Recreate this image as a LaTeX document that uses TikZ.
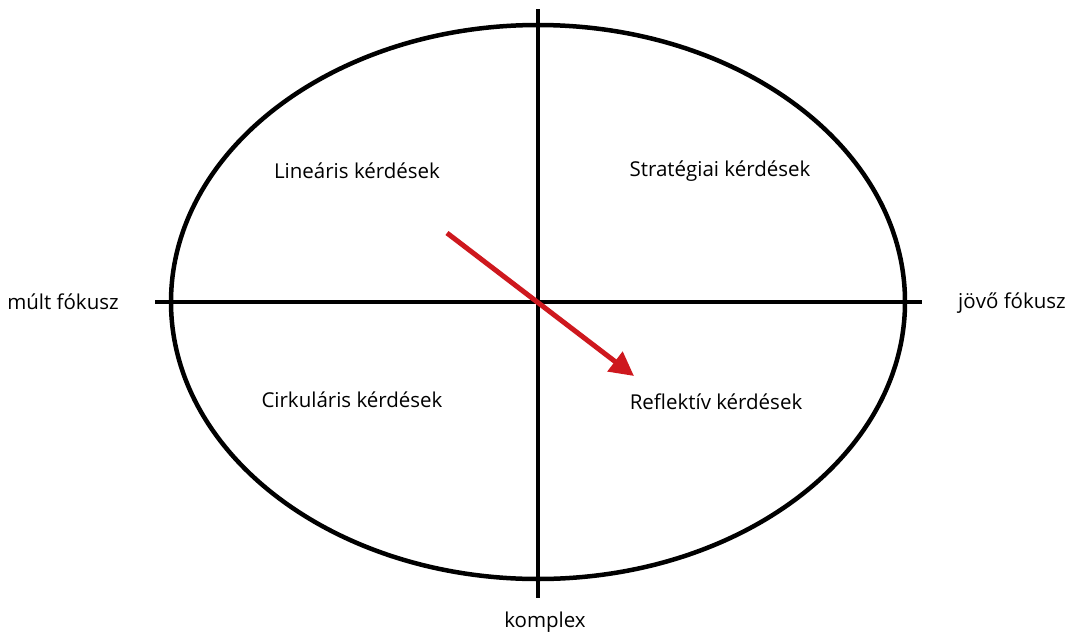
\documentclass[tikz,border=0pt]{standalone}
\usepackage{fontspec}
\setmainfont{Open Sans}
\usetikzlibrary{arrows.meta}
\definecolor{pirosnyil}{RGB}{206,24,30}
\tikzset{
  tengely/.style={line width=4.5pt, black},
  felirat/.style={font=\fontsize{20.5}{24}\selectfont, inner sep=0pt},
}
\begin{document}
\begin{tikzpicture}[x=1pt, y=-1pt]
        \useasboundingbox (0,0) rectangle (1081,635);
        % Ellipszis
        \coordinate (kozep) at (538,302);
        \draw[tengely] (kozep) ellipse [x radius=367, y radius=277];

        % Tengelyek
        \coordinate (bal) at (155,302);
        \coordinate (jobb) at (922,302);
        \coordinate (fent) at (538,9);
        \coordinate (lent) at (538,598);
        \draw[tengely] (bal) -- (jobb);
        \draw[tengely] (fent) -- (lent);

        % Negyedek
        \node[felirat] (linearis) at (357,171) {Lineáris kérdések};
        \node[felirat] (strategiai) at (720,171) {Stratégiai kérdések};
        \node[felirat] (cirkularis) at (352,400) {Cirkuláris kérdések};
        \node[felirat] (reflektiv) at (716,402) {Reflektív kérdések};

        % Tengelyfeliratok
        \node[felirat] (mult) at (63,302) {múlt fókusz};
        \node[felirat] (jovo) at (1012,303) {jövő fókusz};
        \node[felirat] (komplex) at (545,622) {komplex};

        % Nyíl
        \coordinate (nyilkezd) at (447,233);
        \coordinate (nyilveg) at (634,376);
        \draw[line width=5pt, pirosnyil, -{Triangle[length=24pt, width=24pt]}] (nyilkezd) -- (nyilveg);
\end{tikzpicture}
\end{document}
